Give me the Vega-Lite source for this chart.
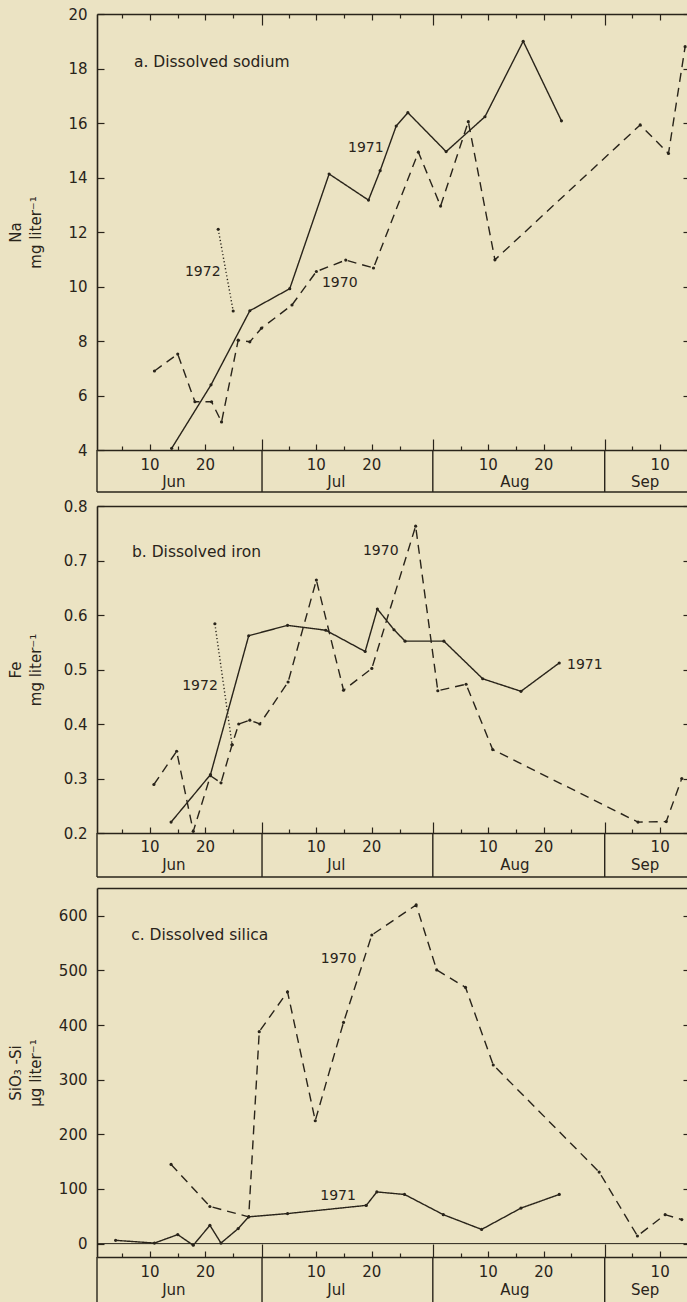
{
  "$schema": "https://vega.github.io/schema/vega-lite/v6.json",
  "background": "#ebe3c3",
  "padding": {"left": 8, "top": 7, "right": 0, "bottom": 0},
  "bounds": "flush",
  "spacing": 0,
  "config": {
    "view": {"stroke": null},
    "axis": {
      "grid": false,
      "labelFont": "DejaVu Sans",
      "labelFontSize": 15,
      "labelColor": "#29241a",
      "titleFont": "DejaVu Sans",
      "titleFontSize": 15,
      "titleFontWeight": "normal",
      "titleColor": "#29241a",
      "domainColor": "#29241a",
      "tickColor": "#29241a",
      "domainWidth": 1.6,
      "tickWidth": 1.2
    }
  },
  "datasets": {
    "na": [
      {"year": "1970", "day": 10.8, "value": 6.9},
      {"year": "1970", "day": 15.0, "value": 7.52},
      {"year": "1970", "day": 18.1, "value": 5.77},
      {"year": "1970", "day": 21.1, "value": 5.77},
      {"year": "1970", "day": 22.9, "value": 5.03},
      {"year": "1970", "day": 25.9, "value": 8.03},
      {"year": "1970", "day": 28.0, "value": 7.97},
      {"year": "1970", "day": 30.1, "value": 8.47},
      {"year": "1970", "day": 35.6, "value": 9.32},
      {"year": "1970", "day": 40.0, "value": 10.55},
      {"year": "1970", "day": 45.3, "value": 10.97},
      {"year": "1970", "day": 50.3, "value": 10.68},
      {"year": "1970", "day": 58.4, "value": 14.93},
      {"year": "1970", "day": 62.4, "value": 12.95},
      {"year": "1970", "day": 67.4, "value": 16.05},
      {"year": "1970", "day": 72.2, "value": 10.98},
      {"year": "1970", "day": 98.4, "value": 15.93},
      {"year": "1970", "day": 103.5, "value": 14.88},
      {"year": "1970", "day": 106.5, "value": 18.8},
      {"year": "1971", "day": 13.9, "value": 4.06},
      {"year": "1971", "day": 21.0, "value": 6.39},
      {"year": "1971", "day": 28.0, "value": 9.11},
      {"year": "1971", "day": 35.2, "value": 9.92},
      {"year": "1971", "day": 42.3, "value": 14.13},
      {"year": "1971", "day": 49.4, "value": 13.17},
      {"year": "1971", "day": 51.5, "value": 14.25},
      {"year": "1971", "day": 54.4, "value": 15.89},
      {"year": "1971", "day": 56.5, "value": 16.38},
      {"year": "1971", "day": 63.4, "value": 14.95},
      {"year": "1971", "day": 70.4, "value": 16.23},
      {"year": "1971", "day": 77.3, "value": 19.0},
      {"year": "1971", "day": 84.2, "value": 16.08},
      {"year": "1972", "day": 22.3, "value": 12.1},
      {"year": "1972", "day": 25.0, "value": 9.1}
    ],
    "fe": [
      {"year": "1970", "day": 10.7, "value": 0.289},
      {"year": "1970", "day": 14.8, "value": 0.35},
      {"year": "1970", "day": 17.8, "value": 0.203},
      {"year": "1970", "day": 20.9, "value": 0.305},
      {"year": "1970", "day": 22.8, "value": 0.292},
      {"year": "1970", "day": 24.8, "value": 0.362},
      {"year": "1970", "day": 26.0, "value": 0.4},
      {"year": "1970", "day": 28.0, "value": 0.407},
      {"year": "1970", "day": 29.8, "value": 0.4},
      {"year": "1970", "day": 34.9, "value": 0.477},
      {"year": "1970", "day": 40.0, "value": 0.664},
      {"year": "1970", "day": 44.9, "value": 0.462},
      {"year": "1970", "day": 50.0, "value": 0.502},
      {"year": "1970", "day": 57.9, "value": 0.763},
      {"year": "1970", "day": 61.9, "value": 0.461},
      {"year": "1970", "day": 67.0, "value": 0.473},
      {"year": "1970", "day": 71.8, "value": 0.353},
      {"year": "1970", "day": 98.0, "value": 0.22},
      {"year": "1970", "day": 103.1, "value": 0.221},
      {"year": "1970", "day": 105.9, "value": 0.3},
      {"year": "1971", "day": 13.8, "value": 0.22},
      {"year": "1971", "day": 20.9, "value": 0.307},
      {"year": "1971", "day": 27.8, "value": 0.562},
      {"year": "1971", "day": 34.8, "value": 0.581},
      {"year": "1971", "day": 41.7, "value": 0.572},
      {"year": "1971", "day": 48.8, "value": 0.533},
      {"year": "1971", "day": 51.0, "value": 0.611},
      {"year": "1971", "day": 54.0, "value": 0.573},
      {"year": "1971", "day": 56.0, "value": 0.552},
      {"year": "1971", "day": 63.0, "value": 0.552},
      {"year": "1971", "day": 70.0, "value": 0.483},
      {"year": "1971", "day": 76.9, "value": 0.46},
      {"year": "1971", "day": 83.8, "value": 0.512},
      {"year": "1972", "day": 21.7, "value": 0.584},
      {"year": "1972", "day": 24.8, "value": 0.362}
    ],
    "si": [
      {"year": "1970", "day": 13.8, "value": 145},
      {"year": "1970", "day": 20.8, "value": 68},
      {"year": "1970", "day": 27.8, "value": 49},
      {"year": "1970", "day": 29.7, "value": 388},
      {"year": "1970", "day": 34.8, "value": 461},
      {"year": "1970", "day": 39.8, "value": 225},
      {"year": "1970", "day": 44.9, "value": 405},
      {"year": "1970", "day": 50.0, "value": 565},
      {"year": "1970", "day": 58.0, "value": 620},
      {"year": "1970", "day": 61.7, "value": 501},
      {"year": "1970", "day": 66.9, "value": 469},
      {"year": "1970", "day": 71.9, "value": 327},
      {"year": "1970", "day": 91.0, "value": 131},
      {"year": "1970", "day": 97.9, "value": 14},
      {"year": "1970", "day": 102.9, "value": 53},
      {"year": "1970", "day": 105.9, "value": 44},
      {"year": "1971", "day": 3.8, "value": 6},
      {"year": "1971", "day": 10.8, "value": 1},
      {"year": "1971", "day": 15.0, "value": 16.5},
      {"year": "1971", "day": 17.8, "value": -3},
      {"year": "1971", "day": 20.8, "value": 33.5},
      {"year": "1971", "day": 22.8, "value": 1},
      {"year": "1971", "day": 25.9, "value": 27.5},
      {"year": "1971", "day": 27.8, "value": 49},
      {"year": "1971", "day": 34.8, "value": 55},
      {"year": "1971", "day": 49.0, "value": 70},
      {"year": "1971", "day": 50.9, "value": 94.6},
      {"year": "1971", "day": 55.9, "value": 90},
      {"year": "1971", "day": 62.9, "value": 53},
      {"year": "1971", "day": 69.8, "value": 26},
      {"year": "1971", "day": 76.9, "value": 65},
      {"year": "1971", "day": 83.8, "value": 90}
    ],
    "boundaries": [{"day": 0.44}, {"day": 30.2}, {"day": 61}, {"day": 92}],
    "daylabels": [
      {"day": 10, "label": "10"}, {"day": 20, "label": "20"},
      {"day": 40, "label": "10"}, {"day": 50, "label": "20"},
      {"day": 71, "label": "10"}, {"day": 81, "label": "20"},
      {"day": 102, "label": "10"}
    ],
    "months": [
      {"day": 14.3, "label": "Jun"}, {"day": 43.6, "label": "Jul"},
      {"day": 75.8, "label": "Aug"}, {"day": 99.3, "label": "Sep"}
    ]
  },
  "vconcat": [
    {
      "width": 592, "height": 436,
      "resolve": {"axis": {"x": "independent", "y": "independent"}},
      "layer": [
        {
          "data": {"name": "na"},
          "mark": {"type": "line", "strokeWidth": 1.4, "color": "#29241a"},
          "encoding": {
            "x": {"field": "day", "type": "quantitative", "scale": {"domain": [0.44, 107.2], "nice": false, "zero": false},
              "axis": {"orient": "bottom", "values": [5,10,15,20,25,30.2,35,40,45,50,55,61,66,71,76,81,86,92,97,102,107], "labels": false, "title": null,
                "tickSize": {"condition": [{"test": "datum.value == 30.2 || datum.value == 61 || datum.value == 92", "value": -11}, {"test": "datum.value == 10 || datum.value == 20 || datum.value == 40 || datum.value == 50 || datum.value == 71 || datum.value == 81 || datum.value == 102", "value": -6}], "value": -4}}},
            "y": {"field": "value", "type": "quantitative", "scale": {"domain": [4, 20], "nice": false, "zero": false},
              "axis": {"orient": "left", "values": [4,6,8,10,12,14,16,18,20], "tickSize": -7, "labelPadding": 17, "minExtent": 50, "maxExtent": 50, "titlePadding": 4, "titleLineHeight": 20, "title": ["Na", "mg liter⁻¹"]}},
            "strokeDash": {"field": "year", "type": "nominal", "scale": {"domain": ["1970","1971","1972"], "range": [[9,6],[1,0],[1.2,2.4]]}, "legend": null}
          }
        },
        {
          "data": {"name": "na"},
          "mark": {"type": "point", "filled": true, "size": 10, "color": "#29241a", "opacity": 1},
          "encoding": {
            "x": {"field": "day", "type": "quantitative", "scale": {"domain": [0.44, 107.2], "nice": false, "zero": false},
              "axis": {"orient": "top", "values": [5,10,15,20,25,30.2,35,40,45,50,55,61,66,71,76,81,86,92,97,102,107], "labels": false, "title": null,
                "tickSize": {"condition": [{"test": "datum.value == 30.2 || datum.value == 61 || datum.value == 92", "value": -11}, {"test": "datum.value == 10 || datum.value == 20 || datum.value == 40 || datum.value == 50 || datum.value == 71 || datum.value == 81 || datum.value == 102", "value": -6}], "value": -4}}},
            "y": {"field": "value", "type": "quantitative", "scale": {"domain": [4, 20], "nice": false, "zero": false},
              "axis": {"orient": "right", "values": [4,6,8,10,12,14,16,18,20], "labels": false, "tickSize": -6, "title": null}}
          }
        },
        {
          "data": {"values": [
            {"day": 7.1, "value": 18.24, "label": "a. Dissolved sodium", "kind": "title"},
            {"day": 45.7, "value": 15.08, "label": "1971", "kind": "year"},
            {"day": 41.0, "value": 10.13, "label": "1970", "kind": "year"},
            {"day": 16.3, "value": 10.53, "label": "1972", "kind": "year"}
          ]},
          "mark": {"type": "text", "align": "left", "baseline": "middle", "font": "DejaVu Sans", "color": "#29241a"},
          "encoding": {
            "x": {"field": "day", "type": "quantitative", "scale": {"domain": [0.44, 107.2], "nice": false, "zero": false}, "axis": null},
            "y": {"field": "value", "type": "quantitative", "scale": {"domain": [4, 20], "nice": false, "zero": false}, "axis": null},
            "text": {"field": "label"},
            "size": {"field": "kind", "type": "nominal", "scale": {"domain": ["title", "year"], "range": [15.5, 14]}, "legend": null}
          }
        }
      ]
    },
    {
      "width": 592, "height": 56,
      "layer": [
        {
          "data": {"name": "boundaries"},
          "mark": {"type": "rule", "color": "#29241a", "strokeWidth": 1.4},
          "encoding": {
            "x": {"field": "day", "type": "quantitative", "scale": {"domain": [0.44, 107.2], "nice": false, "zero": false}, "axis": null},
            "y": {"datum": 0, "type": "quantitative", "scale": {"domain": [0, 56], "reverse": true, "nice": false, "zero": false}, "axis": null},
            "y2": {"datum": 42}
          }
        },
        {
          "data": {"values": [{"edge": "bottom"}]},
          "mark": {"type": "rule", "color": "#29241a", "strokeWidth": 1.6},
          "encoding": {"y": {"datum": 42, "type": "quantitative"}}
        },
        {
          "data": {"name": "daylabels"},
          "mark": {"type": "text", "baseline": "middle", "font": "DejaVu Sans", "fontSize": 15, "color": "#29241a"},
          "encoding": {"x": {"field": "day", "type": "quantitative"}, "y": {"datum": 15, "type": "quantitative"}, "text": {"field": "label"}}
        },
        {
          "data": {"name": "months"},
          "mark": {"type": "text", "baseline": "middle", "font": "DejaVu Sans", "fontSize": 15, "color": "#29241a"},
          "encoding": {"x": {"field": "day", "type": "quantitative"}, "y": {"datum": 31.5, "type": "quantitative"}, "text": {"field": "label"}}
        }
      ]
    },
    {
      "width": 592, "height": 327,
      "resolve": {"axis": {"x": "independent", "y": "independent"}},
      "layer": [
        {
          "data": {"name": "fe"},
          "mark": {"type": "line", "strokeWidth": 1.4, "color": "#29241a"},
          "encoding": {
            "x": {"field": "day", "type": "quantitative", "scale": {"domain": [0.44, 107.2], "nice": false, "zero": false},
              "axis": {"orient": "bottom", "values": [5,10,15,20,25,30.2,35,40,45,50,55,61,66,71,76,81,86,92,97,102,107], "labels": false, "title": null,
                "tickSize": {"condition": [{"test": "datum.value == 30.2 || datum.value == 61 || datum.value == 92", "value": -11}, {"test": "datum.value == 10 || datum.value == 20 || datum.value == 40 || datum.value == 50 || datum.value == 71 || datum.value == 81 || datum.value == 102", "value": -6}], "value": -4}}},
            "y": {"field": "value", "type": "quantitative", "scale": {"domain": [0.2, 0.8], "nice": false, "zero": false},
              "axis": {"orient": "left", "values": [0.2,0.3,0.4,0.5,0.6,0.7,0.8], "format": ".1f", "tickSize": -7, "labelPadding": 17, "minExtent": 50, "maxExtent": 50, "titlePadding": 4, "titleLineHeight": 20, "title": ["Fe", "mg liter⁻¹"]}},
            "strokeDash": {"field": "year", "type": "nominal", "scale": {"domain": ["1970","1971","1972"], "range": [[9,6],[1,0],[1.2,2.4]]}, "legend": null}
          }
        },
        {
          "data": {"name": "fe"},
          "mark": {"type": "point", "filled": true, "size": 10, "color": "#29241a", "opacity": 1},
          "encoding": {
            "x": {"field": "day", "type": "quantitative", "scale": {"domain": [0.44, 107.2], "nice": false, "zero": false},
              "axis": {"orient": "top", "ticks": false, "labels": false, "title": null}},
            "y": {"field": "value", "type": "quantitative", "scale": {"domain": [0.2, 0.8], "nice": false, "zero": false},
              "axis": {"orient": "right", "values": [0.2,0.3,0.4,0.5,0.6,0.7,0.8], "labels": false, "tickSize": -6, "title": null}}
          }
        },
        {
          "data": {"values": [
            {"day": 6.75, "value": 0.715, "label": "b. Dissolved iron", "kind": "title"},
            {"day": 48.4, "value": 0.717, "label": "1970", "kind": "year"},
            {"day": 85.2, "value": 0.509, "label": "1971", "kind": "year"},
            {"day": 15.8, "value": 0.469, "label": "1972", "kind": "year"}
          ]},
          "mark": {"type": "text", "align": "left", "baseline": "middle", "font": "DejaVu Sans", "color": "#29241a"},
          "encoding": {
            "x": {"field": "day", "type": "quantitative", "scale": {"domain": [0.44, 107.2], "nice": false, "zero": false}, "axis": null},
            "y": {"field": "value", "type": "quantitative", "scale": {"domain": [0.2, 0.8], "nice": false, "zero": false}, "axis": null},
            "text": {"field": "label"},
            "size": {"field": "kind", "type": "nominal", "scale": {"domain": ["title", "year"], "range": [15.5, 14]}, "legend": null}
          }
        }
      ]
    },
    {
      "width": 592, "height": 55,
      "layer": [
        {
          "data": {"name": "boundaries"},
          "mark": {"type": "rule", "color": "#29241a", "strokeWidth": 1.4},
          "encoding": {
            "x": {"field": "day", "type": "quantitative", "scale": {"domain": [0.44, 107.2], "nice": false, "zero": false}, "axis": null},
            "y": {"datum": 0, "type": "quantitative", "scale": {"domain": [0, 55], "reverse": true, "nice": false, "zero": false}, "axis": null},
            "y2": {"datum": 44}
          }
        },
        {
          "data": {"values": [{"edge": "bottom"}]},
          "mark": {"type": "rule", "color": "#29241a", "strokeWidth": 1.6},
          "encoding": {"y": {"datum": 44, "type": "quantitative"}}
        },
        {
          "data": {"name": "daylabels"},
          "mark": {"type": "text", "baseline": "middle", "font": "DejaVu Sans", "fontSize": 15, "color": "#29241a"},
          "encoding": {"x": {"field": "day", "type": "quantitative"}, "y": {"datum": 14, "type": "quantitative"}, "text": {"field": "label"}}
        },
        {
          "data": {"name": "months"},
          "mark": {"type": "text", "baseline": "middle", "font": "DejaVu Sans", "fontSize": 15, "color": "#29241a"},
          "encoding": {"x": {"field": "day", "type": "quantitative"}, "y": {"datum": 32, "type": "quantitative"}, "text": {"field": "label"}}
        }
      ]
    },
    {
      "width": 592, "height": 369,
      "resolve": {"axis": {"x": "independent", "y": "independent"}},
      "layer": [
        {
          "data": {"values": [{"level": 0}]},
          "mark": {"type": "rule", "color": "#29241a", "strokeWidth": 1},
          "encoding": {
            "y": {"field": "level", "type": "quantitative", "scale": {"domain": [-24.5, 651], "nice": false, "zero": false}, "axis": null}
          }
        },
        {
          "data": {"name": "si"},
          "mark": {"type": "line", "strokeWidth": 1.4, "color": "#29241a"},
          "encoding": {
            "x": {"field": "day", "type": "quantitative", "scale": {"domain": [0.44, 107.2], "nice": false, "zero": false},
              "axis": {"orient": "bottom", "values": [5,10,15,20,25,30.2,35,40,45,50,55,61,66,71,76,81,86,92,97,102,107], "labels": false, "title": null,
                "tickSize": {"condition": [{"test": "datum.value == 30.2 || datum.value == 61 || datum.value == 92", "value": -13}, {"test": "datum.value == 10 || datum.value == 20 || datum.value == 40 || datum.value == 50 || datum.value == 71 || datum.value == 81 || datum.value == 102", "value": -6}], "value": -4}}},
            "y": {"field": "value", "type": "quantitative", "scale": {"domain": [-24.5, 651], "nice": false, "zero": false},
              "axis": {"orient": "left", "values": [0,100,200,300,400,500,600], "tickSize": -7, "labelPadding": 17, "minExtent": 50, "maxExtent": 50, "titlePadding": 4, "titleLineHeight": 20, "title": ["SiO₃ -Si", "μg liter⁻¹"]}},
            "strokeDash": {"field": "year", "type": "nominal", "scale": {"domain": ["1970","1971","1972"], "range": [[9,6],[1,0],[1.2,2.4]]}, "legend": null}
          }
        },
        {
          "data": {"name": "si"},
          "mark": {"type": "point", "filled": true, "size": 10, "color": "#29241a", "opacity": 1},
          "encoding": {
            "x": {"field": "day", "type": "quantitative", "scale": {"domain": [0.44, 107.2], "nice": false, "zero": false},
              "axis": {"orient": "top", "ticks": false, "labels": false, "title": null}},
            "y": {"field": "value", "type": "quantitative", "scale": {"domain": [-24.5, 651], "nice": false, "zero": false},
              "axis": {"orient": "right", "values": [0,100,200,300,400,500,600], "labels": false, "tickSize": -6, "title": null}}
          }
        },
        {
          "data": {"values": [
            {"day": 6.6, "value": 565, "label": "c. Dissolved silica", "kind": "title"},
            {"day": 40.8, "value": 521, "label": "1970", "kind": "year"},
            {"day": 40.7, "value": 87, "label": "1971", "kind": "year"}
          ]},
          "mark": {"type": "text", "align": "left", "baseline": "middle", "font": "DejaVu Sans", "color": "#29241a"},
          "encoding": {
            "x": {"field": "day", "type": "quantitative", "scale": {"domain": [0.44, 107.2], "nice": false, "zero": false}, "axis": null},
            "y": {"field": "value", "type": "quantitative", "scale": {"domain": [-24.5, 651], "nice": false, "zero": false}, "axis": null},
            "text": {"field": "label"},
            "size": {"field": "kind", "type": "nominal", "scale": {"domain": ["title", "year"], "range": [15.5, 14]}, "legend": null}
          }
        }
      ]
    },
    {
      "width": 592, "height": 46,
      "layer": [
        {
          "data": {"name": "boundaries"},
          "mark": {"type": "rule", "color": "#29241a", "strokeWidth": 1.4},
          "encoding": {
            "x": {"field": "day", "type": "quantitative", "scale": {"domain": [0.44, 107.2], "nice": false, "zero": false}, "axis": null},
            "y": {"datum": 0, "type": "quantitative", "scale": {"domain": [0, 46], "reverse": true, "nice": false, "zero": false}, "axis": null},
            "y2": {"datum": 45}
          }
        },
        {
          "data": {"name": "daylabels"},
          "mark": {"type": "text", "baseline": "middle", "font": "DejaVu Sans", "fontSize": 15, "color": "#29241a"},
          "encoding": {"x": {"field": "day", "type": "quantitative"}, "y": {"datum": 15, "type": "quantitative"}, "text": {"field": "label"}}
        },
        {
          "data": {"name": "months"},
          "mark": {"type": "text", "baseline": "middle", "font": "DejaVu Sans", "fontSize": 15, "color": "#29241a"},
          "encoding": {"x": {"field": "day", "type": "quantitative"}, "y": {"datum": 33, "type": "quantitative"}, "text": {"field": "label"}}
        }
      ]
    }
  ]
}
